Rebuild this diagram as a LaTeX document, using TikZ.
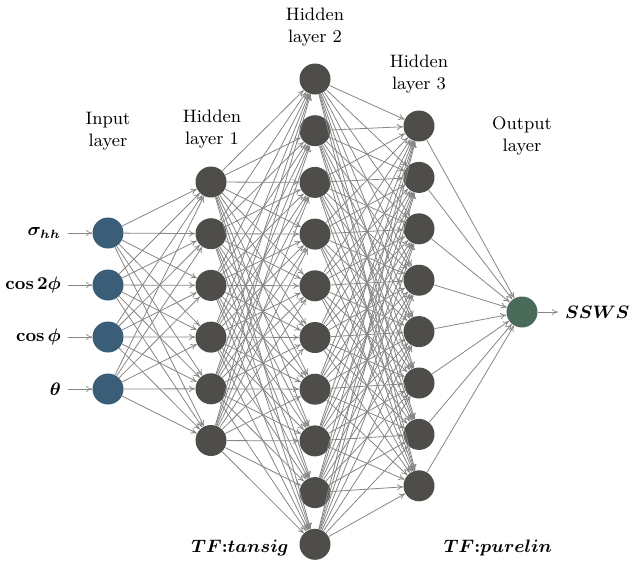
\documentclass[tikz,border=0pt]{standalone}
\usepackage{amsmath,bm}
\usepackage{xcolor}
\usepackage{tikz}
\usetikzlibrary{arrows.meta}

\definecolor{inblue}{HTML}{3B5E78}
\definecolor{hidgray}{HTML}{4E4D49}
\definecolor{outgreen}{HTML}{4A6A5A}

\tikzset{
  neuron/.style={circle, minimum size=15.5pt, inner sep=0pt},
  edge/.style={-{To[length=3pt,width=3pt]}, draw=gray!95, line width=0.4pt},
  layerlabel/.style={align=center, font=\small},
}

\begin{document}
\begin{tikzpicture}[x=0.5pt, y=-0.5pt]
        \useasboundingbox (0,0) rectangle (637,579);
        % neurons
        \foreach \i in {1,...,4}
            \node[neuron, fill=inblue] (I\i) at (108,{233+52*(\i-1)}) {};
        \foreach \i in {1,...,6}
            \node[neuron, fill=hidgray] (A\i) at (211,{182+51.7*(\i-1)}) {};
        \foreach \i in {1,...,10}
            \node[neuron, fill=hidgray] (B\i) at (315,{79+51.7*(\i-1)}) {};
        \foreach \i in {1,...,8}
            \node[neuron, fill=hidgray] (C\i) at (419,{126+51.4*(\i-1)}) {};
        \node[neuron, fill=outgreen] (O) at (522,312) {};
        % connections
        \foreach \i in {1,...,4}
            \foreach \j in {1,...,6}
                \draw[edge] (I\i) -- (A\j);
        \foreach \i in {1,...,6}
            \foreach \j in {1,...,10}
                \draw[edge] (A\i) -- (B\j);
        \foreach \i in {1,...,10}
            \foreach \j in {1,...,8}
                \draw[edge] (B\i) -- (C\j);
        \foreach \i in {1,...,8}
            \draw[edge] (C\i) -- (O);
        % inputs and output
        \node[anchor=east, font=\small] (x1) at (68,233) {$\bm{\sigma_{hh}}$};
        \node[anchor=east, font=\small] (x2) at (68,285) {$\bm{\cos 2\phi}$};
        \node[anchor=east, font=\small] (x3) at (68,337) {$\bm{\cos\phi}$};
        \node[anchor=east, font=\small] (x4) at (68,389) {$\bm{\theta}$};
        \foreach \i in {1,...,4}
            \draw[edge, line width=0.3pt] (x\i) -- (I\i);
        \node[anchor=west, font=\small] (y) at (558,312) {$\bm{SSWS}$};
        \draw[edge, line width=0.3pt] (O) -- (y);
        % labels
        \node[layerlabel] (Lin) at (108,131) {Input\\layer};
        \node[layerlabel] (LA) at (212,129) {Hidden\\layer 1};
        \node[layerlabel] (LB) at (315,27) {Hidden\\layer 2};
        \node[layerlabel] (LC) at (419,74) {Hidden\\layer 3};
        \node[layerlabel] (Lout) at (522,136) {Output\\layer};
        \node[font=\small] (tf1) at (240,548) {$\bm{TF{:}tansig}$};
        \node[font=\small] (tf2) at (498,548) {$\bm{TF{:}purelin}$};
    \end{tikzpicture}
\end{document}
